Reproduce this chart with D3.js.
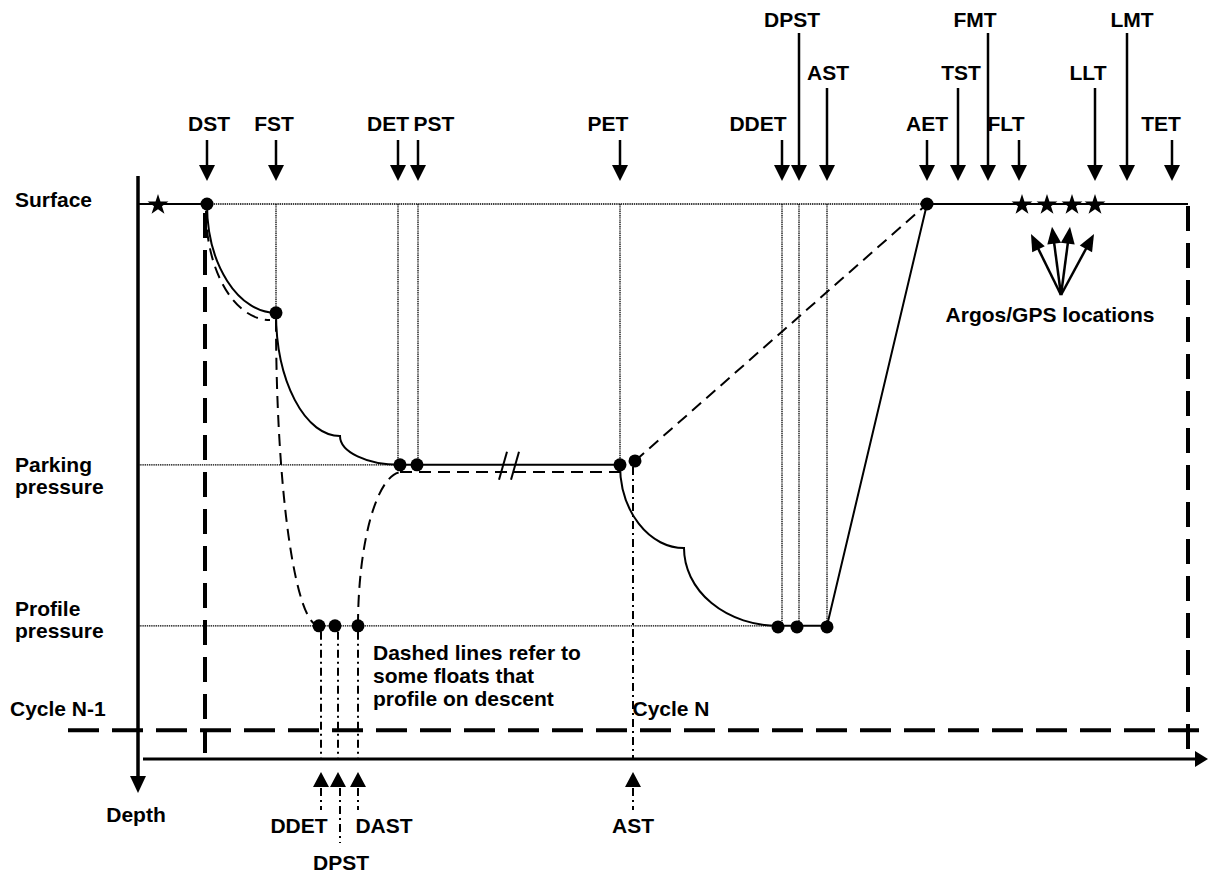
<!DOCTYPE html>
<html>
<head>
<meta charset="utf-8">
<script src="https://cdn.jsdelivr.net/npm/d3@7"></script>
<style>
  body { margin: 0; background: #fff; }
  text { font-family: "Liberation Sans", Arial, sans-serif; font-weight: bold; font-size: 21px; fill: #000; }
</style>
</head>
<body>
<script>
// time runs along the cycle (arbitrary units), depth 0 = surface, 100 = bottom axis

// events marked above the surface
var topEvents = ['DST', 'FST', 'DET', 'PST', 'PET', 'DDET', 'DPST', 'AST', 'AET', 'TST', 'FMT', 'FLT', 'LLT', 'LMT', 'TET'];
var topTimes  = [6.9, 13.8, 26.0, 28.0, 48.2, 64.4, 66.1, 68.9, 78.9, 82.0, 85.0, 88.1, 95.7, 98.9, 103.4];
var topTier   = [0, 0, 0, 0, 0, 0, 2, 1, 0, 1, 2, 0, 1, 2, 0];
// depth that the thin drop line of each top event reaches (null = none)
var topDrop   = [null, 19.6, 47.0, 47.0, 47.0, 76.0, 76.0, 76.0, null, null, null, null, null, null, null];

// events of floats that profile on descent, marked below the axis
var bottomEvents = ['DDET', 'DPST', 'DAST', 'AST'];
var bottomTimes  = [18.3, 20.0, 22.0, 49.5];
var bottomFrom   = [76.0, 76.0, 76.0, 46.3];
var bottomTier   = [0, 1, 0, 0];

// pressure levels
var levelNames  = [['Surface'], ['Parking', 'pressure'], ['Profile', 'pressure']];
var levelDepths = [0, 47.0, 76.0];

// main trajectory (solid): segment i joins point i and i+1
var solidTimes  = [0, 6.9, 13.8, 20.2, 26.2, 48.2, 54.6, 64.0, 68.9, 78.9, 105];
var solidDepths = [0, 0, 19.6, 41.8, 47.0, 47.0, 62.0, 76.0, 76.0, 0, 0];
var solidShape  = ['line', 'arc', 'arc', 'arc', 'line', 'arc', 'arc', 'line', 'line', 'line'];

// floats that profile on descent (dashed)
var altFrom  = [[6.8, 1.2], [13.8, 20.9], [22.0, 76.0], [26.2, 48.3], [49.7, 46.3]];
var altTo    = [[13.2, 20.9], [18.1, 76.0], [26.4, 48.3], [48.2, 48.3], [78.9, 0]];
var altShape = ['arc', 'arc', 'arc', 'line', 'line'];

// measured points
var dotTimes  = [6.9, 13.8, 26.2, 27.9, 48.2, 49.7, 18.1, 19.7, 22.0, 64.0, 65.9, 68.9, 78.9];
var dotDepths = [0, 19.6, 47.0, 47.0, 47.0, 46.3, 76.0, 76.0, 76.0, 76.2, 76.2, 76.2, 0];

// surface positions (stars) and Argos/GPS fan
var starTimes     = [2.0, 88.4, 90.9, 93.4, 95.7];
var fanOrigin     = [92.3, 16.4];
var fanTipTimes   = [89.3, 91.4, 93.2, 95.6];
var fanTipDepths  = [5.4, 4.1, 4.1, 5.4];

var cycleStart = 6.7, cycleEnd = 105, cycleDepth = 94.8, breakTime = 37.2;

// layout -------------------------------------------------------------
var width = 1209, height = 875;
var tierStemTop  = [140, 88, 33];
var tierBaseline = [131, 80, 27];
var topNudge     = [2, -2, -10, 16, -12, -24, -7, 1, 0, 3, -13, -13, -7, 5, -11];
var bottomNudge  = [-22, 3, 26, 0];

var x = d3.scaleLinear().domain([0, 105]).range([138, 1188]);
var y = d3.scaleLinear().domain([0, 100]).range([204, 759]);

var svg = d3.select('body').append('svg')
  .attr('width', width)
  .attr('height', height);

// helpers
var arrowHead = function(tx, ty, angle, len, wid) {
  var ux = Math.cos(angle), uy = Math.sin(angle);
  var bx = tx - len * ux, by = ty - len * uy;
  return 'M' + tx + ',' + ty +
    'L' + (bx - wid / 2 * uy) + ',' + (by + wid / 2 * ux) +
    'L' + (bx + wid / 2 * uy) + ',' + (by - wid / 2 * ux) + 'Z';
};

var segment = function(t0, d0, t1, d1, shape, first) {
  var x0 = x(t0), y0 = y(d0), x1 = x(t1), y1 = y(d1);
  var s = first ? 'M' + x0 + ',' + y0 : '';
  if (shape === 'line') return s + 'L' + x1 + ',' + y1;
  // quarter ellipse: leaves vertically, arrives horizontally
  var sweep = (x1 - x0) * (y1 - y0) > 0 ? 0 : 1;
  return s + 'A' + Math.abs(x1 - x0) + ',' + Math.abs(y1 - y0) + ' 0 0 ' + sweep + ' ' + x1 + ',' + y1;
};

var thin = function(sel) {
  return sel.attr('stroke', '#000').attr('stroke-width', 1.3).attr('stroke-dasharray', '1.4,0.8').attr('fill', 'none');
};

// thin dotted guides ---------------------------------------------------
thin(svg.append('line')).attr('x1', x(6.9)).attr('x2', x(78.9)).attr('y1', y(0)).attr('y2', y(0));
thin(svg.append('line')).attr('x1', x(0)).attr('x2', x(26.2)).attr('y1', y(levelDepths[1])).attr('y2', y(levelDepths[1]));
thin(svg.append('line')).attr('x1', x(0)).attr('x2', x(64.0)).attr('y1', y(levelDepths[2])).attr('y2', y(levelDepths[2]));

topTimes.forEach(function(t, i) {
  if (topDrop[i] === null) return;
  thin(svg.append('line')).attr('x1', x(t)).attr('x2', x(t)).attr('y1', y(0)).attr('y2', y(topDrop[i]));
});

// dash-dot lines down to the axis
bottomTimes.forEach(function(t, i) {
  svg.append('line')
    .attr('x1', x(t)).attr('x2', x(t))
    .attr('y1', y(bottomFrom[i]) + 6).attr('y2', y(100))
    .attr('stroke', '#000').attr('stroke-width', 2)
    .attr('stroke-dasharray', '8,4,2,4');
});

// cycle boundaries (thick dashes)
svg.append('line')
  .attr('x1', x(-7)).attr('x2', x(106.2))
  .attr('y1', y(cycleDepth)).attr('y2', y(cycleDepth))
  .attr('stroke', '#000').attr('stroke-width', 4).attr('stroke-dasharray', '31,13');
[cycleStart, cycleEnd].forEach(function(t, i) {
  svg.append('line')
    .attr('x1', x(t)).attr('x2', x(t))
    .attr('y1', y(0) + (i ? 2 : 9)).attr('y2', y(100) - 6)
    .attr('stroke', '#000').attr('stroke-width', 4).attr('stroke-dasharray', '25,12');
});

// axes
svg.append('line').attr('x1', x(0)).attr('x2', x(0)).attr('y1', 176).attr('y2', 780)
  .attr('stroke', '#000').attr('stroke-width', 3.5);
svg.append('path').attr('d', arrowHead(x(0), 793, Math.PI / 2, 17, 16)).attr('fill', '#000');
svg.append('line').attr('x1', x(0.5)).attr('x2', 1196).attr('y1', y(100)).attr('y2', y(100))
  .attr('stroke', '#000').attr('stroke-width', 3);
svg.append('path').attr('d', arrowHead(1208, y(100), 0, 13, 16)).attr('fill', '#000');

// trajectories --------------------------------------------------------
var solidD = '';
for (var i = 0; i < solidShape.length; i++) {
  solidD += segment(solidTimes[i], solidDepths[i], solidTimes[i + 1], solidDepths[i + 1], solidShape[i], i === 0);
}
svg.append('path').attr('d', solidD).attr('fill', 'none').attr('stroke', '#000').attr('stroke-width', 2);

altShape.forEach(function(shape, i) {
  svg.append('path')
    .attr('d', segment(altFrom[i][0], altFrom[i][1], altTo[i][0], altTo[i][1], shape, true))
    .attr('fill', 'none').attr('stroke', '#000').attr('stroke-width', 2)
    .attr('stroke-dasharray', '12,7');
});

// drift break marks
[0, 1.2].forEach(function(off) {
  svg.append('line')
    .attr('x1', x(breakTime + off - 0.3)).attr('y1', y(levelDepths[1]) - 13)
    .attr('x2', x(breakTime + off - 1.1)).attr('y2', y(levelDepths[1]) + 15)
    .attr('stroke', '#000').attr('stroke-width', 2);
});

// dots
svg.selectAll('circle.pt')
  .data(dotTimes)
  .enter()
  .append('circle')
  .attr('cx', function(d) { return x(d); })
  .attr('cy', function(d, i) { return y(dotDepths[i]); })
  .attr('r', 6.5)
  .attr('fill', '#000');

// stars
svg.selectAll('path.star')
  .data(starTimes)
  .enter()
  .append('path')
  .attr('d', d3.symbol().type(d3.symbolStar).size(135))
  .attr('transform', function(d) { return 'translate(' + x(d) + ',' + (y(0) + 1) + ')'; })
  .attr('fill', '#000');

// Argos/GPS fan
fanTipTimes.forEach(function(t, i) {
  var ox = x(fanOrigin[0]), oy = y(fanOrigin[1]);
  var tx = x(t), ty = y(fanTipDepths[i]);
  var a = Math.atan2(ty - oy, tx - ox);
  svg.append('line')
    .attr('x1', ox).attr('y1', oy)
    .attr('x2', tx - 12 * Math.cos(a)).attr('y2', ty - 12 * Math.sin(a))
    .attr('stroke', '#000').attr('stroke-width', 2.5);
  svg.append('path').attr('d', arrowHead(tx, ty, a, 17, 14)).attr('fill', '#000');
});
svg.append('text').attr('x', 1050).attr('y', 322).attr('text-anchor', 'middle').text('Argos/GPS locations');

// top event arrows
topEvents.forEach(function(name, i) {
  var ax = x(topTimes[i]), tipY = y(0) - 23;
  svg.append('line')
    .attr('x1', ax).attr('x2', ax)
    .attr('y1', tierStemTop[topTier[i]]).attr('y2', tipY - 12)
    .attr('stroke', '#000').attr('stroke-width', 2.5);
  svg.append('path').attr('d', arrowHead(ax, tipY, Math.PI / 2, 16, 16)).attr('fill', '#000');
  svg.append('text')
    .attr('x', ax + topNudge[i]).attr('y', tierBaseline[topTier[i]])
    .attr('text-anchor', 'middle').text(name);
});

// bottom event arrows
bottomEvents.forEach(function(name, i) {
  var ax = x(bottomTimes[i]), tipY = y(100) + 13;
  svg.append('path').attr('d', arrowHead(ax, tipY, -Math.PI / 2, 15, 16)).attr('fill', '#000');
  svg.append('line')
    .attr('x1', ax + (bottomTier[i] ? 2 : 0)).attr('x2', ax + (bottomTier[i] ? 2 : 0))
    .attr('y1', tipY + 16).attr('y2', bottomTier[i] ? 843 : 810)
    .attr('stroke', '#000').attr('stroke-width', 2)
    .attr('stroke-dasharray', '8,4,2,4');
  svg.append('text')
    .attr('x', ax + bottomNudge[i]).attr('y', bottomTier[i] ? 870 : 833)
    .attr('text-anchor', 'middle').text(name);
});

// level labels
var levelShift = [[3], [7, 29], [-10, 12]];
levelNames.forEach(function(lines, i) {
  lines.forEach(function(s, j) {
    svg.append('text').attr('x', 15).attr('y', y(levelDepths[i]) + levelShift[i][j]).text(s);
  });
});

svg.append('text').attr('x', 10).attr('y', 716).text('Cycle N-1');
svg.append('text').attr('x', 671).attr('y', 716).attr('text-anchor', 'middle').text('Cycle N');
svg.append('text').attr('x', 136).attr('y', 822).attr('text-anchor', 'middle').text('Depth');

var note = ['Dashed lines refer to', 'some floats that', 'profile on descent'];
note.forEach(function(s, j) {
  svg.append('text').attr('x', 373).attr('y', 660 + j * 23).text(s);
});
</script>
</body>
</html>
